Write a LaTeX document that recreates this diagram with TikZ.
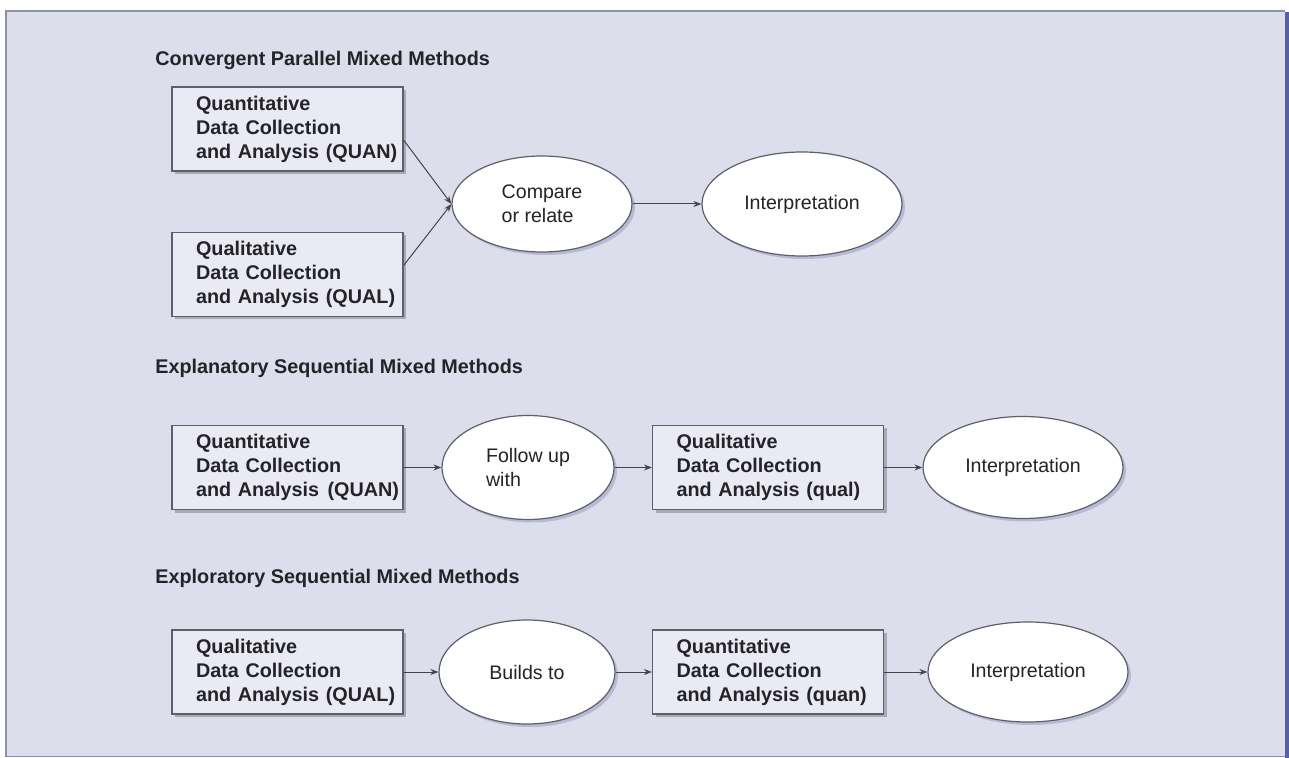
\documentclass[tikz,border=0pt]{standalone}
\usepackage{fontspec}
\setmainfont{Liberation Sans}
\usetikzlibrary{shapes.geometric,shadows,arrows.meta}
\definecolor{panelbg}{RGB}{220,222,236}
\definecolor{boxfill}{RGB}{233,234,244}
\definecolor{edgegray}{RGB}{95,95,105}
\definecolor{inkgray}{RGB}{35,35,40}
\definecolor{barblue}{RGB}{85,95,170}
\definecolor{rimgray}{RGB}{140,145,165}
\begin{document}
\begin{tikzpicture}[x=0.5pt,y=-0.5pt,
  heading/.style={anchor=west,inner sep=0pt,text=inkgray,font=\fontsize{9.9}{12}\selectfont\bfseries},
  databox/.style={draw=edgegray,fill=boxfill,line width=0.6pt,text=inkgray,
    text width=111.5pt,inner xsep=2pt,inner ysep=0pt,minimum height=42pt,align=left,
    font=\fontsize{9.9}{12}\selectfont\bfseries,execute at begin node={\leftskip=10pt\relax},
    drop shadow={shadow xshift=1.5pt,shadow yshift=-1.5pt,opacity=0.35,fill=black!70}},
  linkoval/.style={ellipse,draw=edgegray,fill=white,line width=0.6pt,inner sep=0pt,text=inkgray,
    align=left,font=\fontsize{9.8}{12}\selectfont,
    drop shadow={shadow xshift=1.5pt,shadow yshift=-1.5pt,opacity=0.3,fill=blue!40!black!60}},
  link/.style={-{Stealth[length=4pt,width=3pt]},draw=inkgray!85,line width=0.5pt}]
\useasboundingbox (0,0) rectangle (1289,758);
% panel
\fill[panelbg] (6,11) rectangle (1285,757);
\draw[rimgray,line width=0.8pt] (6,757) -- (6,11) -- (1285,11);
\draw[barblue!70,line width=0.8pt] (6,756.5) -- (1285,756.5);
\fill[barblue] (1285,12) rectangle (1289,758);

% convergent parallel
\node[heading] (convT) at (155,60) {Convergent Parallel Mixed Methods};
\node[databox] (quanA) at (287.5,129) {Quantitative\\Data Collection\\and Analysis (QUAN)};
\node[databox] (qualA) at (287.5,274.5) {Qualitative\\Data Collection\\and Analysis (QUAL)};
\node[linkoval,minimum width=90pt,minimum height=48pt] (cmpA) at (542,204) {Compare\\or relate};
\node[linkoval,minimum width=100pt,minimum height=52pt] (intA) at (802,204) {Interpretation};
\draw[link] ([yshift=-5.5pt]quanA.east) -- (cmpA.west);
\draw[link] ([yshift=4.5pt]qualA.east) -- (cmpA.west);
\draw[link] (cmpA) -- (intA);

% explanatory sequential
\node[heading] (explT) at (155,368) {Explanatory Sequential Mixed Methods};
\node[databox] (quanB) at (287.5,467.5) {Quantitative\\Data Collection\\\mbox{and Analysis\hspace{0.42em}(QUAN)}};
\node[linkoval,minimum width=86pt,minimum height=52pt] (folB) at (528,467.5) {Follow up\\with};
\node[databox] (qualB) at (768,467.5) {Qualitative\\Data Collection\\and Analysis (qual)};
\node[linkoval,minimum width=100pt,minimum height=51pt] (intB) at (1023,467.5) {Interpretation};
\draw[link] (quanB) -- (folB);
\draw[link] (folB) -- (qualB);
\draw[link] (qualB) -- (intB);

% exploratory sequential
\node[heading] (explrT) at (155,578) {Exploratory Sequential Mixed Methods};
\node[databox] (qualC) at (287.5,672) {Qualitative\\Data Collection\\and Analysis (QUAL)};
\node[linkoval,minimum width=88pt,minimum height=52pt] (bldC) at (527,672) {Builds to};
\node[databox] (quanC) at (768,672) {Quantitative\\Data Collection\\and Analysis (quan)};
\node[linkoval,minimum width=100pt,minimum height=50pt] (intC) at (1028,672) {Interpretation};
\draw[link] (qualC) -- (bldC);
\draw[link] (bldC) -- (quanC);
\draw[link] (quanC) -- (intC);
\end{tikzpicture}
\end{document}
